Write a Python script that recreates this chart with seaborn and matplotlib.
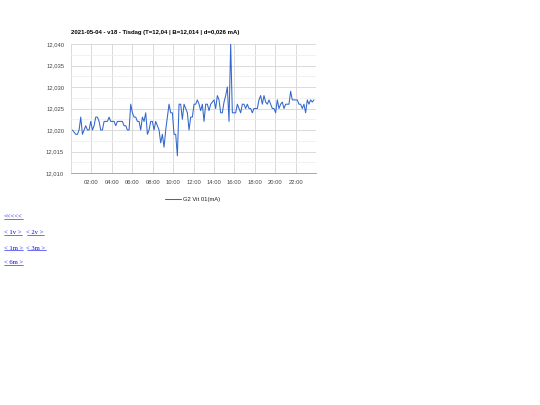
import matplotlib
matplotlib.use('Agg')
import matplotlib.pyplot as plt
from matplotlib.lines import Line2D
from matplotlib.ticker import MultipleLocator, FuncFormatter
import numpy as np
import pandas as pd
import seaborn as sns

# Values (mA), roughly every 10 minutes
values = [
    12.020, 12.0195, 12.019, 12.019, 12.020, 12.023, 12.019, 12.020, 12.021, 12.020,
    12.020, 12.022, 12.020, 12.021, 12.023, 12.023, 12.022, 12.020, 12.020, 12.022,
    12.022, 12.022, 12.023, 12.022, 12.022, 12.022, 12.021, 12.022, 12.022, 12.022,
    12.022, 12.021, 12.021, 12.020, 12.020, 12.026, 12.024, 12.023, 12.023, 12.022,
    12.022, 12.020, 12.023, 12.022, 12.024, 12.019, 12.020, 12.022, 12.022, 12.020,
    12.022, 12.021, 12.020, 12.017, 12.019, 12.016, 12.020, 12.023, 12.026, 12.024,
    12.024, 12.019, 12.019, 12.014, 12.026, 12.026, 12.0225, 12.026, 12.025, 12.024,
    12.020, 12.023, 12.023, 12.026, 12.026, 12.027, 12.026, 12.0245, 12.026, 12.022,
    12.026, 12.026, 12.0245, 12.026, 12.0265, 12.027, 12.025, 12.028, 12.027, 12.024,
    12.024, 12.0265, 12.028, 12.030, 12.022, 12.040, 12.024, 12.024, 12.024, 12.026,
    12.025, 12.024, 12.026, 12.026, 12.025, 12.026, 12.025, 12.025, 12.024, 12.025,
    12.025, 12.025, 12.027, 12.028, 12.026, 12.028, 12.0265, 12.026, 12.027, 12.026,
    12.025, 12.025, 12.024, 12.027, 12.025, 12.026, 12.0265, 12.025, 12.026, 12.026,
    12.026, 12.029, 12.027, 12.027, 12.027, 12.027, 12.026, 12.026, 12.025, 12.026,
    12.024, 12.027, 12.026, 12.027, 12.0265, 12.027,
]
# time of day in hours for each sample
hours = np.linspace(0.14, 23.8, len(values))

title = '2021-05-04 - v18 - Tisdag (T=12,04 | B=12,014 | d=0,026 mA)'
series_name = 'G2 Vit 01(mA)'
links = [['<<<<<'], ['< 1v >', '< 2v >'], ['< 1m >', '< 3m >'], ['< 6m >']]

df = pd.DataFrame({'hour': hours, 'value': values, 'series': series_name})

sns.set_style('white')
plt.rcParams['font.family'] = ['Liberation Sans', 'DejaVu Sans']

fig = plt.figure(figsize=(5.4, 4.05), dpi=100)
ax = fig.add_axes([71 / 540, 1 - 173 / 405, 245 / 540, 129 / 405])

sns.lineplot(data=df, x='hour', y='value', hue='series', palette=['#3366cc'],
             linewidth=0.75, ax=ax)

ax.set_xlim(0, 24)
ax.set_ylim(12.010, 12.040)
ax.yaxis.set_major_locator(MultipleLocator(0.005))
ax.yaxis.set_minor_locator(MultipleLocator(0.0025))
ax.xaxis.set_major_locator(MultipleLocator(2))
ax.xaxis.set_minor_locator(MultipleLocator(1))
ax.xaxis.set_major_formatter(FuncFormatter(lambda v, p: '' if v in (0, 24) else f'{int(v):02d}:00'))
ax.yaxis.set_major_formatter(FuncFormatter(lambda v, p: f'{v:.3f}'.replace('.', ',')))

ax.grid(which='major', color='#d4d4d4', linewidth=0.6)
ax.grid(which='minor', axis='y', color='#efefef', linewidth=0.6)
ax.set_axisbelow(True)
for side in ['top', 'right', 'left']:
    ax.spines[side].set_visible(False)
ax.spines['bottom'].set_color('#999999')
ax.spines['bottom'].set_linewidth(0.6)

ax.tick_params(axis='both', which='both', labelsize=4.2, colors='#444444', length=0, pad=5)
ax.tick_params(axis='x', which='minor', length=1.5, color='#cccccc', direction='in')
ax.set_xlabel('')
ax.set_ylabel('')

ax.text(0, 1.07, title, transform=ax.transAxes, fontsize=4.3, fontweight='bold',
        color='#000000', ha='left', va='bottom')

ax.legend(loc='center', bbox_to_anchor=(193 / 540, 1 - 199 / 405),
          bbox_transform=fig.transFigure, frameon=False, fontsize=4.2,
          handlelength=2.6, handletextpad=0.5, labelcolor='#222222')

# navigation links below the chart
link_texts = []
y_rows = [217, 233, 248, 263]
for row, y in zip(links, y_rows):
    x = 4
    for label in row:
        t = fig.text(x / 540, 1 - y / 405, label, fontsize=4.8, color='#0000ee',
                     family=['Liberation Serif', 'DejaVu Serif'], ha='left', va='center')
        link_texts.append(t)
        x += 22.5

fig.canvas.draw()
renderer = fig.canvas.get_renderer()
inv = fig.transFigure.inverted()
for t in link_texts:
    bb = t.get_window_extent(renderer)
    (x0, y0), (x1, y1) = inv.transform([(bb.x0, bb.y0 + 0.3), (bb.x1, bb.y0 + 0.3)])
    fig.add_artist(Line2D([x0, x1], [y0, y1], color='#0000ee', linewidth=0.4,
                          transform=fig.transFigure))

fig.savefig('out.png', dpi=100)
